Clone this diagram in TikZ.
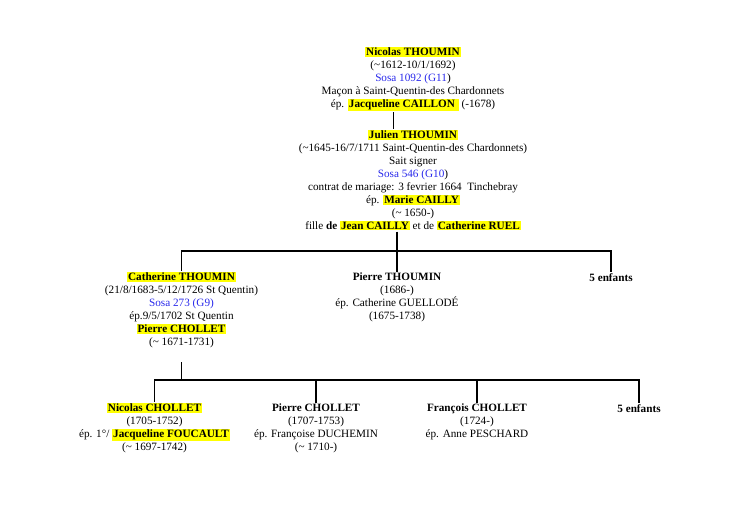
\documentclass[tikz,border=0pt]{standalone}
\usepackage{fontspec}
\setmainfont{Liberation Serif}
\definecolor{hlyellow}{RGB}{255,255,0}
\definecolor{sosablue}{RGB}{40,40,235}
\newcommand{\hl}[1]{{\setlength{\fboxsep}{1pt}\colorbox{hlyellow}{\textbf{#1}}}}
\newcommand{\sosa}[1]{\textcolor{sosablue}{#1}}
\tikzset{
  person/.style={align=center, anchor=north, inner sep=1pt, font=\fontsize{11.2}{12.9}\selectfont},
  branch/.style={line width=1.8pt},
  link/.style={line width=0.6pt}
}
\begin{document}
\begin{tikzpicture}[x=1pt,y=-1pt]
            \useasboundingbox (0,0) rectangle (754,512);

            % 第一代: Nicolas 和 Julien
            \node[person] (nicolas) at (413,46) {\hl{Nicolas THOUMIN}\\
                (\textasciitilde1612-10/1/1692)\\
                \sosa{Sosa 1092 (G11})\\
                Maçon à Saint-Quentin-des Chardonnets\\
                ép. \hl{Jacqueline CAILLON }\ (-1678)};
            \node[person] (julien) at (413,129) {\hl{Julien THOUMIN}\\
                (\textasciitilde1645-16/7/1711 Saint-Quentin-des Chardonnets)\\
                Sait signer\\
                \sosa{Sosa 546 (G10})\\
                contrat de mariage: 3 fevrier 1664\ \ Tinchebray\\
                ép. \hl{Marie CAILLY}\\
                (\textasciitilde\ 1650-)\\
                fille \textbf{de} \hl{Jean CAILLY} et de \hl{Catherine RUEL}};

            % 细线连接父子
            \coordinate (bar) at (393,0);
            \draw[link] (nicolas.south -| bar) -- (julien.north -| bar);

            % 第二代: Julien 的孩子
            \node[person] (catherine) at (181.5,271) {\hl{Catherine THOUMIN}\\
                (21/8/1683-5/12/1726 St Quentin)\\
                \sosa{Sosa 273 (G9)}\\
                ép.9/5/1702 St Quentin\\
                \hl{Pierre CHOLLET}\\
                (\textasciitilde\ 1671-1731)};
            \node[person] (pierreT) at (397,272) {\textbf{Pierre THOUMIN}\\
                (1686-)\\
                ép. Catherine GUELLODÉ\\
                (1675-1738)};
            \node[person] (enfants1) at (611,272) {\textbf{5 enfants}};

            % 第二代的分支线
            \coordinate (fork1) at (0,251);
            \draw[branch] (julien.south -| pierreT.north) -- (pierreT.north);
            \draw[branch] (catherine.north) -- (catherine.north |- fork1)
                -- (enfants1.north |- fork1) -- (enfants1.north);

            % 第三代: Catherine 的孩子
            \node[person] (nicolasC) at (154.5,402) {\hl{Nicolas CHOLLET}\\
                (1705-1752)\\
                ép. 1°/ \hl{Jacqueline FOUCAULT}\\
                (\textasciitilde\ 1697-1742)};
            \node[person] (pierreC) at (316,403) {\textbf{Pierre CHOLLET}\\
                (1707-1753)\\
                ép. Françoise DUCHEMIN\\
                (\textasciitilde\ 1710-)};
            \node[person] (francois) at (477,403) {\textbf{François CHOLLET}\\
                (1724-)\\
                ép. Anne PESCHARD};
            \node[person] (enfants2) at (639,403) {\textbf{5 enfants}};

            % 第三代的分支线
            \coordinate (fork2) at (0,380);
            \draw[branch] ([yshift=-13pt]catherine.south) -- (catherine.south |- fork2);
            \draw[branch] (nicolasC.north) -- (nicolasC.north |- fork2)
                -- (enfants2.north |- fork2) -- (enfants2.north);
            \draw[branch] (pierreC.north |- fork2) -- (pierreC.north);
            \draw[branch] (francois.north |- fork2) -- (francois.north);
\end{tikzpicture}
\end{document}
